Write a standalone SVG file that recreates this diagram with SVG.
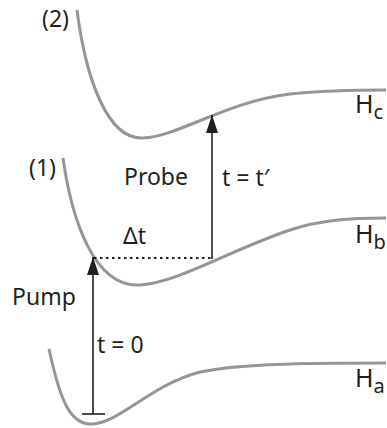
<svg xmlns="http://www.w3.org/2000/svg" width="387" height="428" viewBox="0 0 387 428">
<style>
.curve{fill:none;stroke:#939598;stroke-width:3;stroke-linecap:butt}
.arr{stroke:#231f20;stroke-width:1.6;fill:none}
.lbl{font-family:"Noto Sans","Open Sans",sans-serif;font-size:23px;fill:#231f20}
.big{font-size:25px}
.sub{font-size:20px}
</style>
<defs>
<marker id="ah" viewBox="0 0 18 12" refX="18" refY="6" markerWidth="18" markerHeight="12" markerUnits="userSpaceOnUse" orient="auto">
<path d="M0,0 L18,6 L0,12 Z" fill="#231f20"/>
</marker>
</defs>
<rect width="387" height="428" fill="#fff"/>
<g id="Hc">
<path class="curve" d="M77,10 C 86,80 108,140 143,138 C 180,136 225,102 290,94 C 330,90 360,90 386,90"/>
<text class="lbl big" x="355" y="113">H<tspan class="sub" dy="6">c</tspan></text>
<text class="lbl" x="42" y="27">(2)</text>
</g>
<g id="Hb">
<path class="curve" d="M63,158 C 72,222 95,288 140,285 C 180,282 230,250 290,230 C 320,220 350,218 386,218"/>
<text class="lbl big" x="355" y="243">H<tspan class="sub" dy="6">b</tspan></text>
<text class="lbl" x="29" y="176">(1)</text>
</g>
<g id="Ha">
<path class="curve" d="M49,349 C 60,400 70,425 92,424 C 120,423 150,385 200,372 C 240,364 300,363 386,363"/>
<text class="lbl big" x="355" y="387">H<tspan class="sub" dy="6">a</tspan></text>
</g>
<g id="connectors">
<line class="arr" x1="82" y1="414" x2="105" y2="414"/>
<line class="arr" x1="93" y1="414" x2="93" y2="257" marker-end="url(#ah)"/>
<line class="arr" x1="212" y1="259" x2="212" y2="115" marker-end="url(#ah)"/>
<line x1="94" y1="258" x2="211" y2="258" stroke="#231f20" stroke-width="2.2" stroke-dasharray="2.5,3.5"/>
</g>
<g id="labels">
<text class="lbl" x="124" y="185">Probe</text>
<text class="lbl" x="123" y="244">Δt</text>
<text class="lbl" x="222" y="186">t = t′</text>
<text class="lbl" x="12" y="305">Pump</text>
<text class="lbl" x="97" y="353">t = 0</text>
</g>
</svg>
